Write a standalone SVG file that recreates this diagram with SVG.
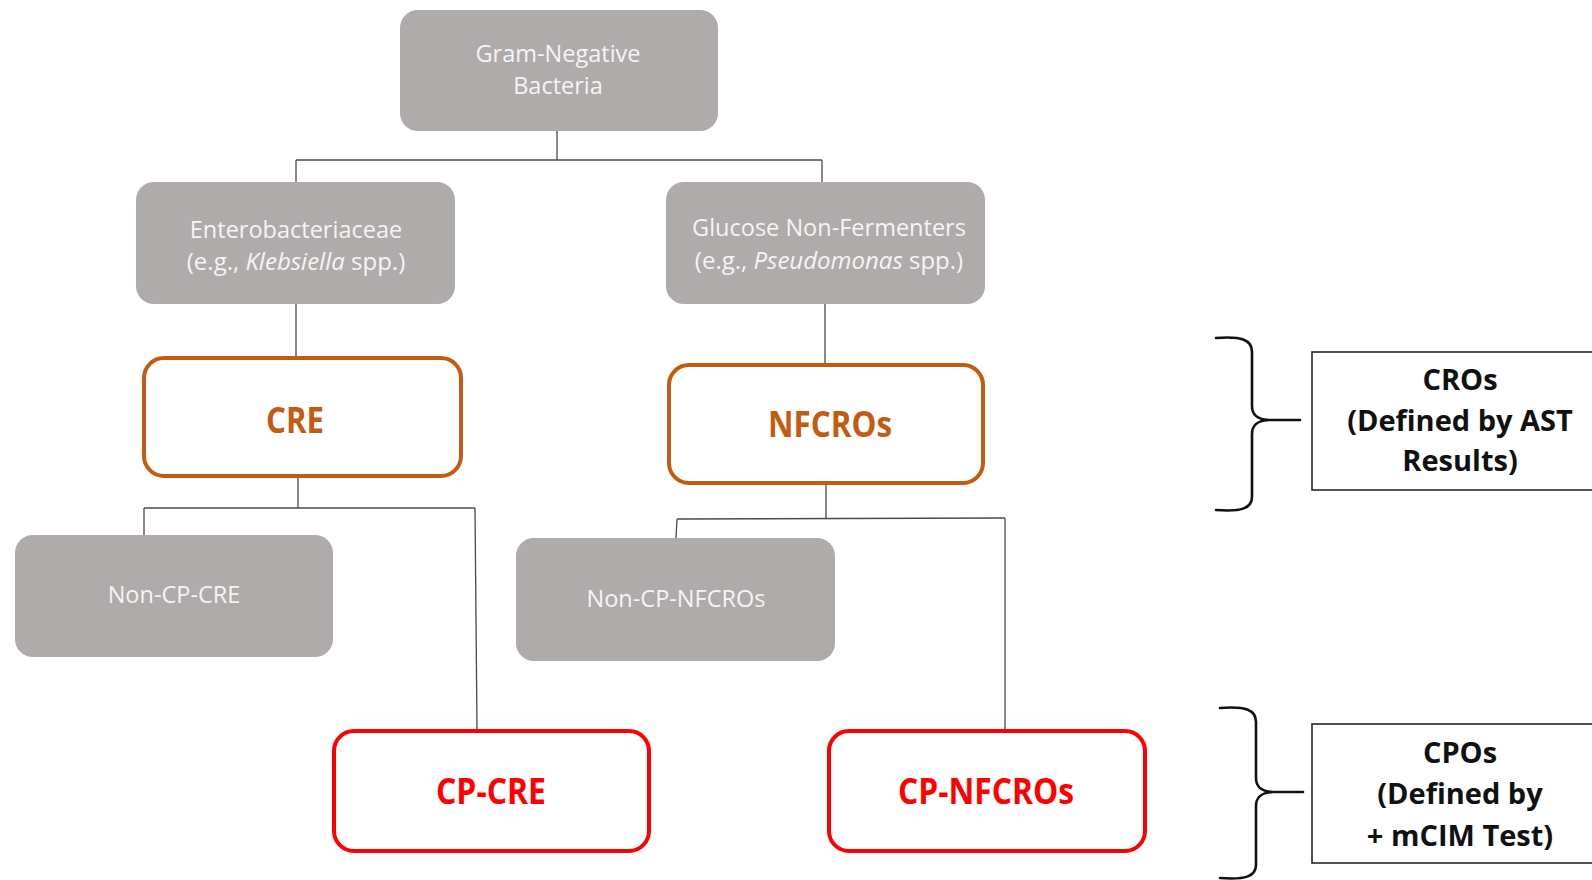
<svg xmlns="http://www.w3.org/2000/svg" width="1592" height="880" viewBox="0 0 1592 880">
  <style>
    .gray { fill: #AEABAA; }
    .cro { fill: #FFFFFF; stroke: #C55A11; stroke-width: 4; }
    .cpo { fill: #FFFFFF; stroke: #FF0000; stroke-width: 4; }
    .note { fill: #FFFFFF; stroke: #262626; stroke-width: 1.6; }
    .link { stroke: #4A4A4A; stroke-width: 1.3; fill: none; }
    .brace { stroke: #111111; stroke-width: 2.6; fill: none; stroke-linecap: round; }
    .lbl { font-family: "Open Sans", "Liberation Sans", sans-serif; font-size: 23.5px; fill: #F4F4F4; text-anchor: middle; }
    .eg { font-size: 24px; }
    .big { font-family: "Open Sans", "Liberation Sans", sans-serif; font-weight: bold; font-size: 35px; text-anchor: middle; }
    .orange { fill: #C55A11; }
    .red { fill: #FF0000; }
    .side { font-family: "Open Sans", "Liberation Sans", sans-serif; font-weight: bold; font-size: 29px; fill: #111111; text-anchor: middle; }
  </style>

  <rect width="1592" height="880" fill="#FFFFFF"/>

  <!-- connectors -->
  <g id="connectors">
    <path class="link" d="M557,131 V160"/>
    <path class="link" d="M296,160 H822"/>
    <path class="link" d="M296,160 V182"/>
    <path class="link" d="M822,160 V182"/>
    <path class="link" d="M296,304 V356"/>
    <path class="link" d="M825,304 V364"/>
    <path class="link" d="M298,478 V508"/>
    <path class="link" d="M144,508 H475"/>
    <path class="link" d="M144,508 V535"/>
    <path class="link" d="M475,508 L477,729"/>
    <path class="link" d="M826,484 V518"/>
    <path class="link" d="M677,519 L1005,518"/>
    <path class="link" d="M677,519 L676,538"/>
    <path class="link" d="M1005,518 V729"/>
  </g>

  <g id="gram-negative">
    <rect class="gray" x="400" y="10" width="318" height="121" rx="18"/>
    <text class="lbl" x="558" y="62">Gram-Negative</text>
    <text class="lbl" x="558" y="94">Bacteria</text>
  </g>

  <g id="enterobacteriaceae">
    <rect class="gray" x="136" y="182" width="319" height="122" rx="18"/>
    <text class="lbl" x="296" y="238">Enterobacteriaceae</text>
    <text class="lbl eg" x="296" y="270">(e.g., <tspan font-style="italic">Klebsiella</tspan> spp.)</text>
  </g>

  <g id="non-fermenters">
    <rect class="gray" x="666" y="182" width="319" height="122" rx="18"/>
    <text class="lbl" x="829" y="236">Glucose Non-Fermenters</text>
    <text class="lbl eg" x="829" y="269">(e.g., <tspan font-style="italic">Pseudomonas</tspan> spp.)</text>
  </g>

  <g id="cre">
    <rect class="cro" x="144" y="358" width="317" height="118" rx="20"/>
    <text class="big orange" x="295" y="433" textLength="58" lengthAdjust="spacingAndGlyphs">CRE</text>
  </g>

  <g id="nfcros">
    <rect class="cro" x="669" y="365" width="314" height="118" rx="20"/>
    <text class="big orange" x="830" y="437" textLength="124" lengthAdjust="spacingAndGlyphs">NFCROs</text>
  </g>

  <g id="non-cp-cre">
    <rect class="gray" x="15" y="535" width="318" height="122" rx="18"/>
    <text class="lbl" x="174" y="603">Non-CP-CRE</text>
  </g>

  <g id="non-cp-nfcros">
    <rect class="gray" x="516" y="538" width="319" height="123" rx="18"/>
    <text class="lbl" x="676" y="607">Non-CP-NFCROs</text>
  </g>

  <g id="cp-cre">
    <rect class="cpo" x="334" y="731" width="315" height="120" rx="20"/>
    <text class="big red" x="491" y="804" textLength="110" lengthAdjust="spacingAndGlyphs">CP-CRE</text>
  </g>

  <g id="cp-nfcros">
    <rect class="cpo" x="829" y="731" width="316" height="120" rx="20"/>
    <text class="big red" x="986" y="804" textLength="176" lengthAdjust="spacingAndGlyphs">CP-NFCROs</text>
  </g>

  <!-- upper bracket with its note -->
  <g id="cros-group">
    <path class="brace" d="M1216,338 C1242,336 1252,340 1252,352 L1252,406 C1252,415 1257,419 1268,420 C1257,421 1252,425 1252,434 L1252,497 C1252,508 1242,512 1216,510"/>
    <path class="brace" d="M1266,420 H1300"/>
    <rect class="note" x="1312" y="352" width="300" height="138"/>
    <text class="side" x="1460" y="390">CROs</text>
    <text class="side" x="1460" y="431">(Defined by AST</text>
    <text class="side" x="1460" y="471">Results)</text>
  </g>

  <!-- lower bracket with its note -->
  <g id="cpos-group">
    <path class="brace" d="M1220,708 C1246,706 1256,710 1256,722 L1256,778 C1256,787 1261,791 1272,792 C1261,793 1256,797 1256,806 L1256,865 C1256,876 1246,880 1220,878"/>
    <path class="brace" d="M1270,792 H1303"/>
    <rect class="note" x="1312" y="724" width="300" height="139"/>
    <text class="side" x="1460" y="763">CPOs</text>
    <text class="side" x="1460" y="804">(Defined by</text>
    <text class="side" x="1460" y="846">+ mCIM Test)</text>
  </g>
</svg>
